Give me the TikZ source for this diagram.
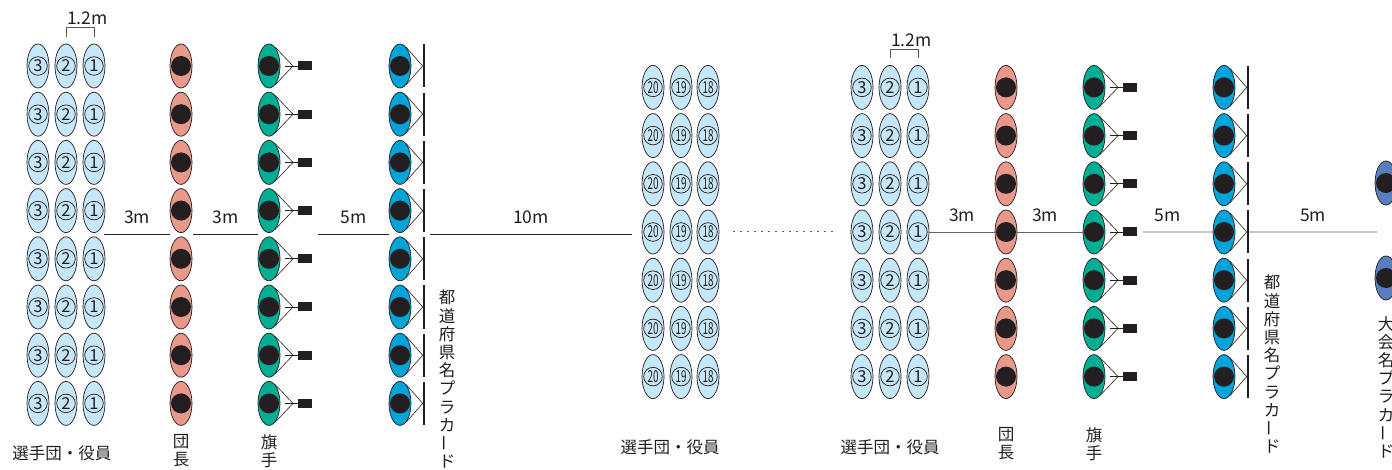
\documentclass[tikz,border=0pt]{standalone}
\usepackage{fontspec}
\setmainfont{Noto Sans CJK JP}
\usetikzlibrary{shapes.geometric}
\definecolor{seatblue}{HTML}{C6E7F8}
\definecolor{leadred}{HTML}{E8998A}
\definecolor{flaggreen}{HTML}{00AE93}
\definecolor{cardblue}{HTML}{00A3DA}
\definecolor{eventblue}{HTML}{5A7DC0}
\definecolor{ink}{HTML}{231F20}
\tikzset{
  seat/.style={ellipse, draw=ink, line width=0.7pt, fill=seatblue, minimum width=22pt, minimum height=44pt,
    inner sep=0pt, text=ink, font=\fontsize{16.5}{16.5}\selectfont,
    path picture={\draw[ink, line width=0.7pt] (path picture bounding box.center) circle (9.3pt);}},
  person/.style={ellipse, draw=ink, line width=0.7pt, minimum width=22pt, minimum height=44pt, inner sep=0pt,
    path picture={\fill[ink] (path picture bounding box.center) circle (10pt);}},
  flag/.style={fill=ink, minimum width=14pt, minimum height=9pt, inner sep=0pt},
  board/.style={fill=ink, minimum width=2.2pt, minimum height=43pt, inner sep=0pt},
  sight/.style={draw=ink, line width=0.6pt},
  measure/.style={draw=ink, line width=0.9pt},
  meter/.style={font=\fontsize{17.5}{20}\selectfont, text=ink, inner sep=0pt},
  jlabel/.style={font=\fontsize{16.5}{18.2}\selectfont, text=ink, inner sep=0pt, align=center},
}
\newcommand{\vbar}{\raisebox{2.5pt}{\rotatebox[origin=c]{90}{ー}}}
\begin{document}
\begin{tikzpicture}[x=1pt, y=-1pt]
\useasboundingbox (0,0) rectangle (1392,470);

\foreach \r [evaluate=\r as \y using 66+48.2*(\r-1)] in {1,...,8} {
  \node[seat] (a3-\r) at (38,\y) {3};
  \node[seat] (a2-\r) at (66,\y) {2};
  \node[seat] (a1-\r) at (94,\y) {1};
  \node[person, fill=leadred] (ac-\r) at (181,\y) {};
  \node[person, fill=flaggreen] (ag-\r) at (269,\y) {};
  \coordinate (agp-\r) at (285,\y);
  \coordinate (agt-\r) at (293,\y);
  \node[flag] (af-\r) at (305,\y) {};
  \draw[sight] (ag-\r.72) -- (agt-\r) -- (ag-\r.-72);
  \draw[sight] (agp-\r) -- (af-\r.west);
  \node[person, fill=cardblue] (ap-\r) at (400,\y) {};
  \node[board] (ab-\r) at (424,\y) {};
  \draw[sight] (ap-\r.72) -- (ab-\r.west) -- (ap-\r.-72);
}

\foreach \r [evaluate=\r as \y using 87.4+48.2*(\r-1)] in {1,...,7} {
  \foreach \n/\x in {20/653,19/681,18/708}
    \node[seat] (m\n-\r) at (\x,\y) {\scalebox{0.6}[1]{\n}};
  \node[seat] (b3-\r) at (862,\y) {3};
  \node[seat] (b2-\r) at (890,\y) {2};
  \node[seat] (b1-\r) at (918,\y) {1};
  \node[person, fill=leadred] (bc-\r) at (1006,\y) {};
  \node[person, fill=flaggreen] (bg-\r) at (1094,\y) {};
  \coordinate (bgp-\r) at (1110,\y);
  \coordinate (bgt-\r) at (1118,\y);
  \node[flag] (bf-\r) at (1130,\y) {};
  \draw[sight] (bg-\r.72) -- (bgt-\r) -- (bg-\r.-72);
  \draw[sight] (bgp-\r) -- (bf-\r.west);
  \node[person, fill=cardblue] (bp-\r) at (1224,\y) {};
  \node[board] (bb-\r) at (1248,\y) {};
  \draw[sight] (bp-\r.72) -- (bb-\r.west) -- (bp-\r.-72);
}

\node[person, fill=eventblue] (e1) at (1386,183) {};
\node[person, fill=eventblue] (e2) at (1386,278) {};

\draw[sight, draw=ink!75] ([yshift=7pt]a2-1.north) |- ([yshift=16pt]a1-1.north) -- ([yshift=7pt]a1-1.north);
\node[meter, anchor=base west] (w1) at ([xshift=1pt, yshift=19pt]a2-1.north) {1.2m};
\draw[sight, draw=ink!75] ([yshift=7pt]b2-1.north) |- ([yshift=16pt]b1-1.north) -- ([yshift=7pt]b1-1.north);
\node[meter, anchor=base west] (w2) at ([xshift=1pt, yshift=19pt]b2-1.north) {1.2m};

\foreach \i/\xa/\xb/\t in {1/104/170/3m, 2/193/258/3m, 3/318/389/5m, 4/430/632/10m} {
  \coordinate (la\i) at (\xa,234);
  \coordinate (lb\i) at (\xb,234);
  \draw[measure] (la\i) -- node[meter, anchor=base, yshift=10pt] (lt\i) {\t} (lb\i);
}

\coordinate (rd1) at (733,232);
\coordinate (rd2) at (837,232);
\draw[draw=ink!70, line width=1pt, dash pattern=on 2pt off 5pt] (rd1) -- (rd2);
\coordinate (rq1) at (1143,232);
\coordinate (rq2) at (1377,232);
\draw[measure, draw=ink!70] (b1-4.east) -- node[meter, anchor=base, yshift=10pt] (rt1) {3m} (bc-4.west);
\draw[measure, draw=ink!70] (bc-4.east) -- node[meter, anchor=base, yshift=10pt, xshift=-5pt] (rt2) {3m} (bg-4.west);
\draw[measure, draw=ink!70] (rq1) -- node[meter, anchor=base, yshift=10pt, xshift=-10pt] (rt3) {5m} (bp-4.west);
\draw[measure, draw=ink!70] (bb-4.east) -- node[meter, anchor=base, yshift=10pt] (rt4) {5m} (rq2);

\node[jlabel, anchor=base] (ta) at (62,459) {選手団・役員};
\node[jlabel, anchor=north] (tc) at (181,434.5) {団\\長};
\node[jlabel, anchor=north] (tg) at (269,434.5) {旗\\手};
\node[jlabel, anchor=north] (tp) at (447,290) {都\\道\\府\\県\\名\\プ\\ラ\\カ\\\vbar\\ド};
\node[jlabel, anchor=base] (ma) at (670,453.5) {選手団・役員};
\node[jlabel, anchor=base] (ra) at (890,453.5) {選手団・役員};
\node[jlabel, anchor=north] (rc) at (1006,427.5) {団\\長};
\node[jlabel, anchor=north] (rg) at (1094,427.5) {旗\\手};
\node[jlabel, anchor=north] (rp) at (1272,275) {都\\道\\府\\県\\名\\プ\\ラ\\カ\\\vbar\\ド};
\node[jlabel, anchor=north] (ep) at (1386,316) {大\\会\\名\\プ\\ラ\\カ\\\vbar\\ド};
\end{tikzpicture}
\end{document}
